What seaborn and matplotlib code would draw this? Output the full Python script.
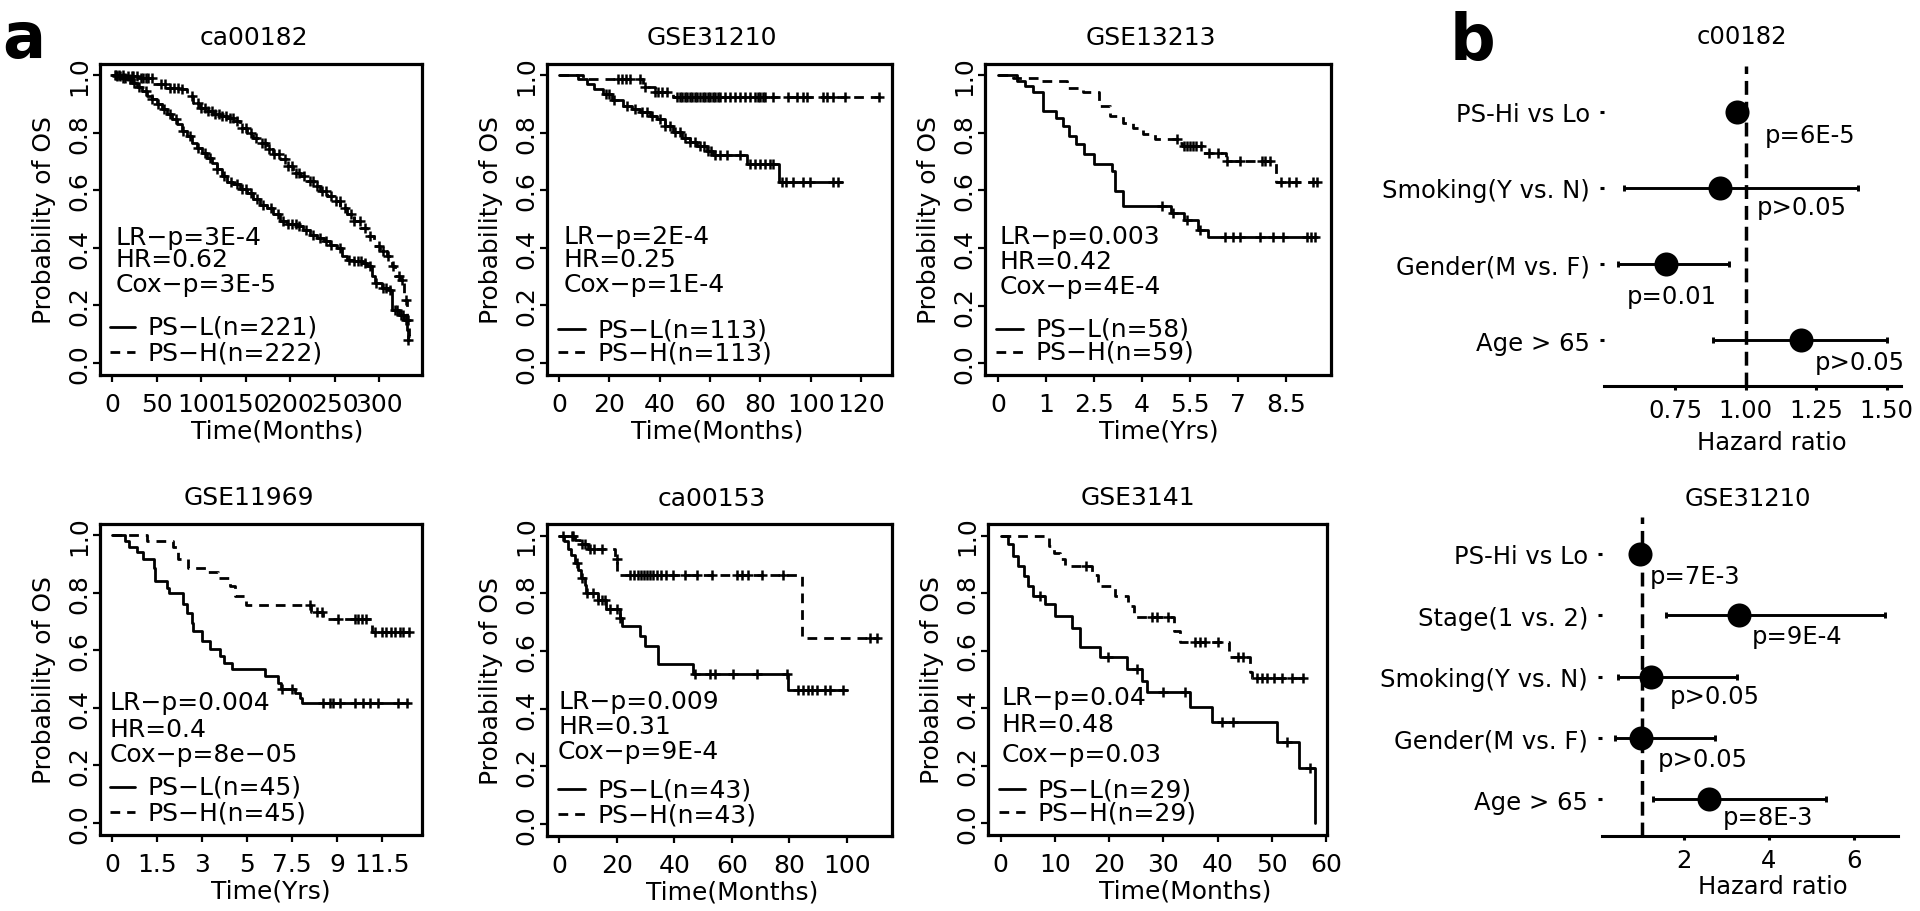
import numpy as np
import pandas as pd
import matplotlib
matplotlib.use("Agg")
import matplotlib.pyplot as plt
import seaborn as sns

W, H, DPI = 1920, 912, 100

# ---------------------------------------------------------------- KM data
# ca00182 (months)
ca00182_L_t = [0, 5.2, 10.9, 16.5, 22.1, 27.7, 33.3, 39, 44.6, 50.2,
               55.8, 61.4, 67, 72.7, 78.3, 83.9, 89.5, 95.1, 100.7, 106.4,
               112, 117.6, 123.2, 128.8, 136.3, 143.8, 151.3, 158.8, 166.3, 173.7,
               181.2, 188.7, 196.2, 207.4, 214.9, 222.5, 230, 237.5, 245, 252.4,
               258, 263.7, 271.2, 280.5, 286.1, 291.8, 295.5, 303, 310.5, 314.2,
               321.7, 327.4, 331.1, 332]
ca00182_L_s = [1.0, 0.995, 0.990, 0.986, 0.974, 0.960, 0.945, 0.928, 0.916, 0.899,
               0.882, 0.864, 0.846, 0.829, 0.806, 0.788, 0.765, 0.748, 0.730, 0.713,
               0.695, 0.672, 0.649, 0.628, 0.620, 0.603, 0.591, 0.568, 0.550, 0.539,
               0.516, 0.492, 0.481, 0.475, 0.463, 0.446, 0.434, 0.423, 0.411, 0.399,
               0.370, 0.358, 0.353, 0.347, 0.336, 0.301, 0.278, 0.260, 0.254, 0.185,
               0.167, 0.150, 0.115, 0.080]
ca00182_L_end = 333
ca00182_L_cens = [3, 6, 9, 12, 15, 20, 25, 30, 38, 45, 52, 58, 65, 72, 80, 88, 96, 104,
                  110, 118, 126, 134, 140, 146, 150, 156, 163, 170, 178, 186, 192, 198,
                  202, 206, 210, 218, 226, 234, 240, 246, 256, 266, 272, 276, 280, 284,
                  290, 296, 304, 308, 312, 318, 320, 324, 327, 330, 332]
ca00182_H_t = [0, 16.5, 31.5, 46.4, 61.4, 76.4, 83.9, 91.4, 98.9, 106.4,
               113.9, 121.3, 128.8, 136.3, 143.8, 151.3, 158.8, 166.3, 173.7, 181.2,
               188.7, 196.2, 203.7, 211.2, 218.7, 226.2, 233.7, 241.2, 248.7, 256.2,
               263.7, 271.2, 278.7, 286.1, 293.6, 301.1, 308.6, 314.2, 318, 323.6,
               327.4, 331.1, 333]
ca00182_H_s = [1.0, 0.995, 0.990, 0.968, 0.956, 0.953, 0.928, 0.904, 0.887, 0.875,
               0.864, 0.858, 0.852, 0.840, 0.817, 0.800, 0.782, 0.765, 0.742, 0.724,
               0.707, 0.684, 0.661, 0.649, 0.632, 0.614, 0.597, 0.579, 0.562, 0.539,
               0.516, 0.492, 0.469, 0.440, 0.405, 0.388, 0.370, 0.336, 0.301, 0.289,
               0.219, 0.150, 0.092]
ca00182_H_end = 334
ca00182_H_cens = [5, 8, 12, 18, 22, 24, 28, 32, 35, 38, 40, 45, 55, 60, 65, 70, 74, 78,
                  90, 96, 100, 104, 108, 112, 116, 120, 124, 128, 132, 136, 140, 146,
                  150, 156, 162, 168, 172, 176, 182, 188, 194, 198, 202, 206, 210, 216,
                  222, 226, 230, 236, 240, 246, 252, 256, 262, 268, 272, 278, 284, 290,
                  300, 304, 310, 316, 322, 326, 330, 332]

# GSE31210 (months)
gse31210_L_t = [0, 7.7, 11, 14, 17.6, 21, 25.6, 29, 32, 36, 38.8, 42, 45.4, 49, 52,
                55, 58.7, 61.3, 74.6, 87.2]
gse31210_L_s = [1.0, 0.986, 0.969, 0.952, 0.934, 0.914, 0.894, 0.882, 0.871, 0.859,
                0.847, 0.824, 0.801, 0.783, 0.766, 0.752, 0.737, 0.722, 0.690, 0.628]
gse31210_L_end = 112.4
gse31210_L_cens = [18.5, 20, 22, 27, 30, 33, 35, 37, 40, 42, 44, 46, 48, 50, 52, 54, 56,
                   57.5, 59, 60.5, 62, 64, 66.6, 71.9, 76, 78, 80, 82, 84, 85.2, 88.5,
                   90, 93.1, 97.1, 99.7, 109, 111]
gse31210_H_t = [0, 9.7, 33.5, 38, 45.4]
gse31210_H_s = [1.0, 0.986, 0.958, 0.942, 0.922]
gse31210_H_end = 127.6
gse31210_H_cens = [23.6, 25, 26.5, 28, 32.2, 34.2, 38.2, 39.5, 41, 43, 46.8, 48, 49, 50,
                   51, 52, 53, 54, 55, 56, 57, 58, 59, 60, 61, 62, 63, 64, 66, 68, 70,
                   72, 74, 76, 78, 79, 80, 81, 82, 85.2, 91.1, 94.4, 97.1, 98.4, 105,
                   106.3, 109, 113.6, 127]

# GSE13213 (axis units, labelled in years)
gse13213_L_t = [0, 0.58, 0.85, 1.1, 1.4, 1.81, 2.02, 2.23, 2.44, 2.7, 3.0, 3.55, 3.66,
                3.92, 5.4, 5.8, 6.25, 6.55]
gse13213_L_s = [1.0, 0.98, 0.963, 0.94, 0.876, 0.852, 0.823, 0.789, 0.76, 0.725, 0.69,
                0.667, 0.597, 0.545, 0.522, 0.499, 0.464, 0.438]
gse13213_L_end = 9.97
gse13213_L_cens = [5.12, 5.48, 5.9, 6.31, 7.09, 7.35, 7.56, 8.19, 8.6, 8.92, 9.65, 9.8, 9.9]
gse13213_H_t = [0, 0.48, 1.3, 2.15, 2.67, 3.14, 3.5, 3.92, 4.23, 4.54, 4.9, 5.6, 5.75,
                6.41, 7.14, 8.7]
gse13213_H_s = [1.0, 0.99, 0.98, 0.956, 0.94, 0.893, 0.858, 0.835, 0.817, 0.794, 0.777,
                0.765, 0.753, 0.73, 0.701, 0.628]
gse13213_H_end = 9.97
gse13213_H_cens = [5.58, 5.8, 5.9, 6.0, 6.1, 6.2, 6.36, 6.6, 6.89, 7.15, 7.56, 8.24,
                   8.34, 8.5, 8.86, 9.1, 9.3, 9.85, 9.96]

# GSE11969 (axis units, labelled in years)
gse11969_L_t = [0, 0.6, 0.74, 1.11, 1.4, 1.85, 1.92, 2.44, 2.55, 3.17, 3.32, 3.54, 3.61,
                3.99, 4.36, 4.8, 4.96, 5.33, 6.8, 7.4, 7.5, 8.13, 8.36, 8.45]
gse11969_L_s = [1.0, 0.978, 0.957, 0.94, 0.916, 0.887, 0.84, 0.817, 0.8, 0.76, 0.73,
                0.695, 0.667, 0.632, 0.603, 0.58, 0.557, 0.533, 0.51, 0.487, 0.464,
                0.452, 0.435, 0.417]
gse11969_L_end = 13.17
gse11969_L_cens = [7.55, 8.0, 9.4, 9.69, 9.84, 10.13, 10.8, 11.17, 11.47, 11.84, 12.73, 13.1]
gse11969_H_t = [0, 1.55, 2.73, 2.95, 3.39, 4.2, 4.72, 5.24, 5.46, 5.98, 8.85, 9.36, 11.56]
gse11969_H_s = [1.0, 0.98, 0.957, 0.916, 0.887, 0.87, 0.852, 0.823, 0.788, 0.757,
                0.731, 0.707, 0.664]
gse11969_H_end = 13.3
gse11969_H_cens = [8.8, 9.1, 9.32, 10.06, 10.8, 10.95, 11.1, 11.3, 11.69, 12.0, 12.2,
                   12.4, 12.6, 12.8, 12.95, 13.2]

# ca00153 (months)
ca00153_L_t = [0, 1.9, 3.1, 4.2, 5.4, 6.5, 7.7, 8.9, 9.5, 13.5, 16.4, 21.1, 21.8, 28,
               29.8, 34.4, 46.6, 79.6]
ca00153_L_s = [1.0, 0.98, 0.955, 0.934, 0.905, 0.882, 0.853, 0.83, 0.801, 0.778, 0.744,
               0.715, 0.686, 0.651, 0.617, 0.553, 0.519, 0.465]
ca00153_L_end = 99.9
ca00153_L_cens = [6.1, 7.9, 9.6, 11.9, 13.7, 14.8, 16, 17.7, 20, 21.2, 47.2, 52.4, 54.2,
                  60.5, 68.6, 79, 83.1, 84.8, 86.6, 87.7, 89.5, 92.4, 94.1, 98.7]
ca00153_H_t = [0, 5.5, 7.3, 10.2, 19.4, 20.2, 84.2]
ca00153_H_s = [1.0, 0.985, 0.97, 0.952, 0.917, 0.862, 0.646]
ca00153_H_end = 111
ca00153_H_cens = [1.5, 4.4, 5, 7.9, 9, 10.8, 12, 14.8, 20, 24.6, 26, 27.5, 28.5, 29.5,
                  30.5, 31.5, 32.5, 34, 35.5, 37, 39.7, 43.7, 47.8, 53, 61.7, 63.5,
                  65.7, 70.4, 77.9, 108, 110.3]

# GSE3141 (months)
gse3141_L_t = [0, 1.4, 2.3, 3.2, 4.2, 5.1, 6.0, 8.1, 10.0, 13.1, 14.6, 18.3, 23.2, 26,
               26.9, 34.9, 38.9, 50.9, 54.9, 58]
gse3141_L_s = [1.0, 0.969, 0.928, 0.894, 0.859, 0.824, 0.79, 0.761, 0.72, 0.68, 0.611,
               0.576, 0.536, 0.495, 0.455, 0.403, 0.351, 0.282, 0.19, 0.0]
gse3141_L_end = 58
gse3141_L_cens = [7.2, 19.8, 25.1, 30, 34, 40.8, 42.9, 52.7, 57]
gse3141_H_t = [0, 8.8, 9.8, 11.0, 11.9, 16.8, 18.0, 21.1, 23.5, 24.5, 31.9, 33.1, 42.0,
               46.0, 46.3]
gse3141_H_s = [1.0, 0.963, 0.94, 0.918, 0.894, 0.862, 0.824, 0.79, 0.755, 0.716, 0.669,
               0.631, 0.577, 0.525, 0.504]
gse3141_H_end = 56
gse3141_H_cens = [15.8, 27.8, 28.8, 30.9, 35.8, 36.8, 37.7, 40.1, 43.8, 44.7, 47.2, 48.1,
                  49.1, 50.3, 51.8, 53.7, 55.8]

km_titles = ["ca00182", "GSE31210", "GSE13213", "GSE11969", "ca00153", "GSE3141"]
km_stats = [["LR\u2212p=3E-4", "HR=0.62", "Cox\u2212p=3E-5"],
            ["LR\u2212p=2E-4", "HR=0.25", "Cox\u2212p=1E-4"],
            ["LR\u2212p=0.003", "HR=0.42", "Cox\u2212p=4E-4"],
            ["LR\u2212p=0.004", "HR=0.4", "Cox\u2212p=8e\u221205"],
            ["LR\u2212p=0.009", "HR=0.31", "Cox\u2212p=9E-4"],
            ["LR\u2212p=0.04", "HR=0.48", "Cox\u2212p=0.03"]]
km_legend = [["PS\u2212L(n=221)", "PS\u2212H(n=222)"],
             ["PS\u2212L(n=113)", "PS\u2212H(n=113)"],
             ["PS\u2212L(n=58)", "PS\u2212H(n=59)"],
             ["PS\u2212L(n=45)", "PS\u2212H(n=45)"],
             ["PS\u2212L(n=43)", "PS\u2212H(n=43)"],
             ["PS\u2212L(n=29)", "PS\u2212H(n=29)"]]
km_xlabels = ["Time(Months)", "Time(Months)", "Time(Yrs)", "Time(Yrs)",
              "Time(Months)", "Time(Months)"]
km_xtick_labels = [["0", "50", "100", "150", "200", "250", "300"],
                   ["0", "20", "40", "60", "80", "100", "120"],
                   ["0", "1", "2.5", "4", "5.5", "7", "8.5"],
                   ["0", "1.5", "3", "5", "7.5", "9", "11.5"],
                   ["0", "20", "40", "60", "80", "100"],
                   ["0", "10", "20", "30", "40", "50", "60"]]
ytick_vals = [0.0, 0.2, 0.4, 0.6, 0.8, 1.0]

# ---------------------------------------------------------------- forest data
f1_title = "c00182"
f1_labels = ["PS-Hi vs Lo", "Smoking(Y vs. N)", "Gender(M vs. F)", "Age > 65"]
f1_hr = [0.968, 0.908, 0.717, 1.198]
f1_lo = [0.955, 0.568, 0.548, 0.886]
f1_hi = [0.985, 1.40, 0.94, 1.50]
f1_p = ["p=6E-5", "p>0.05", "p=0.01", "p>0.05"]
f1_ticks = [0.75, 1.00, 1.25, 1.50]
f1_ticklabels = ["0.75", "1.00", "1.25", "1.50"]

f2_title = "GSE31210"
f2_labels = ["PS-Hi vs Lo", "Stage(1 vs. 2)", "Smoking(Y vs. N)", "Gender(M vs. F)",
             "Age > 65"]
f2_hr = [0.96, 3.29, 1.22, 0.99, 2.59]
f2_lo = [0.90, 1.58, 0.45, 0.38, 1.27]
f2_hi = [1.02, 6.73, 3.25, 2.73, 5.34]
f2_p = ["p=7E-3", "p=9E-4", "p>0.05", "p>0.05", "p=8E-3"]
f2_ticks = [2, 4, 6]
f2_ticklabels = ["2", "4", "6"]

# ---------------------------------------------------------------- layout (pixels)
km_rects = [(100, 422, 64.5, 375.5), (547, 892, 64.5, 375.5), (985, 1331, 64.5, 376),
            (100, 422, 524.5, 835.5), (547, 892, 525, 836.5), (988, 1327, 525, 835.5)]
km_xlims = [(-13.5, 348), (-4.8, 132.3), (-0.41, 10.41), (-0.53, 13.78),
            (-4.17, 115.6), (-2.36, 60.15)]
km_xtick_pos = [[0, 50, 100, 150, 200, 250, 300], [0, 20, 40, 60, 80, 100, 120],
                [0, 1.5, 3, 4.5, 6, 7.5, 9], [0, 2, 4, 6, 8, 10, 12],
                [0, 20, 40, 60, 80, 100], [0, 10, 20, 30, 40, 50, 60]]
km_title_cx = [254, 711.7, 1151, 249, 711.7, 1137.5]
km_xlabel_cx = [277, 716.7, 1159, 271, 731.7, 1185]
km_text_x = [0.047, 0.049, 0.043, 0.031, 0.032, 0.040]
km_text_y = [[0.442, 0.371, 0.291], [0.445, 0.371, 0.291], [0.446, 0.366, 0.286],
             [0.426, 0.339, 0.259], [0.433, 0.352, 0.272], [0.442, 0.355, 0.259]]
km_leg_y = [[0.153, 0.072], [0.146, 0.072], [0.148, 0.074],
            [0.153, 0.072], [0.149, 0.069], [0.146, 0.072]]

f1_rect = (1604, 1901, 67, 387)
f1_xlim = (0.498, 1.551)
f1_ptx = [1.069, 1.041, 0.580, 1.246]
f1_pdy = [0.30, 0.25, 0.42, 0.29]
f2_rect = (1602, 1898, 518, 837)
f2_xlim = (0.07, 7.035)
f2_ptx = [1.2, 3.6, 1.67, 1.39, 2.92]
f2_pdy = [0.36, 0.34, 0.31, 0.34, 0.29]

# ---------------------------------------------------------------- style
sns.set_theme(style="white")
plt.rcParams["font.family"] = ["DejaVu Sans"]
plt.rcParams.update({
    "axes.edgecolor": "black", "axes.linewidth": 2.3, "text.color": "black",
    "xtick.color": "black", "ytick.color": "black", "axes.labelcolor": "black",
    "axes.facecolor": "white", "figure.facecolor": "white",
})
FS = 18      # KM panels
FSF = 17.5   # forest panels
LW = 2.0
DASH = (0, (3.5, 2.5))

fig = plt.figure(figsize=(W / DPI, H / DPI), dpi=DPI)


def rect(l, r, t, b):
    return [l / W, 1 - b / H, (r - l) / W, (b - t) / H]


def draw_curve(ax, t, s, end, cens, dashed):
    tt = list(t) + [end]
    ss = list(s) + [s[-1]]
    df = pd.DataFrame({"time": tt, "surv": ss})
    ls = DASH if dashed else "-"
    sns.lineplot(data=df, x="time", y="surv", ax=ax, estimator=None, sort=False,
                 drawstyle="steps-post", color="black", linewidth=LW, linestyle=ls)
    idx = np.searchsorted(np.asarray(tt), np.asarray(cens), side="right") - 1
    cy = np.asarray(ss)[idx]
    sns.scatterplot(x=cens, y=cy, ax=ax, marker="+", s=60, color="black",
                    linewidth=1.8, zorder=3, legend=False)


km_curves = [
    (ca00182_L_t, ca00182_L_s, ca00182_L_end, ca00182_L_cens,
     ca00182_H_t, ca00182_H_s, ca00182_H_end, ca00182_H_cens),
    (gse31210_L_t, gse31210_L_s, gse31210_L_end, gse31210_L_cens,
     gse31210_H_t, gse31210_H_s, gse31210_H_end, gse31210_H_cens),
    (gse13213_L_t, gse13213_L_s, gse13213_L_end, gse13213_L_cens,
     gse13213_H_t, gse13213_H_s, gse13213_H_end, gse13213_H_cens),
    (gse11969_L_t, gse11969_L_s, gse11969_L_end, gse11969_L_cens,
     gse11969_H_t, gse11969_H_s, gse11969_H_end, gse11969_H_cens),
    (ca00153_L_t, ca00153_L_s, ca00153_L_end, ca00153_L_cens,
     ca00153_H_t, ca00153_H_s, ca00153_H_end, ca00153_H_cens),
    (gse3141_L_t, gse3141_L_s, gse3141_L_end, gse3141_L_cens,
     gse3141_H_t, gse3141_H_s, gse3141_H_end, gse3141_H_cens),
]

for i in range(6):
    l, r, t, b = km_rects[i]
    ax = fig.add_axes(rect(l, r, t, b))
    Lt, Ls, Le, Lc, Ht, Hs, He, Hc = km_curves[i]
    draw_curve(ax, Lt, Ls, Le, Lc, False)
    draw_curve(ax, Ht, Hs, He, Hc, True)
    ax.set_xlim(*km_xlims[i])
    ax.set_ylim(-0.04, 1.04)
    ax.set_xlabel("")
    ax.set_ylabel("")
    ax.set_xticks(km_xtick_pos[i])
    ax.set_xticklabels(km_xtick_labels[i], fontsize=FS)
    ax.set_yticks(ytick_vals)
    ax.set_yticklabels(["%.1f" % v for v in ytick_vals], fontsize=FS,
                       rotation=90, va="center")
    ax.tick_params(axis="both", direction="out", length=5, width=1.6,
                   bottom=True, left=True)
    ax.tick_params(axis="x", pad=7.5)
    ax.tick_params(axis="y", pad=1.5)
    for sp in ax.spines.values():
        sp.set_linewidth(2.3)
        sp.set_color("black")
    w = r - l
    h = b - t
    ax.text((km_title_cx[i] - l) / w, 1 + 26.5 / h, km_titles[i], transform=ax.transAxes,
            ha="center", va="center", fontsize=FS)
    ax.text((km_xlabel_cx[i] - l) / w, -56 / h, km_xlabels[i], transform=ax.transAxes,
            ha="center", va="center", fontsize=FS)
    ax.text(-56 / w, 0.5, "Probability of OS", transform=ax.transAxes, rotation=90,
            ha="center", va="center", fontsize=FS)
    for txt, yy in zip(km_stats[i], km_text_y[i]):
        ax.text(km_text_x[i], yy, txt, transform=ax.transAxes, ha="left",
                va="center", fontsize=FS)
    for j, (txt, yy) in enumerate(zip(km_legend[i], km_leg_y[i])):
        ax.plot([0.032, 0.11], [yy, yy], transform=ax.transAxes, color="black",
                lw=LW, linestyle="-" if j == 0 else DASH)
        ax.text(0.147, yy, txt, transform=ax.transAxes, ha="left", va="center",
                fontsize=FS)


def draw_forest(rc, xlim, labels, hr, lo, hi, ptxt, ptx, pdy, ticks, ticklabels,
                title, title_xy, xlab_xy):
    l, r, t, b = rc
    ax = fig.add_axes(rect(l, r, t, b))
    n = len(labels)
    pos = np.arange(n)[::-1].astype(float)
    hr = np.asarray(hr)
    lo = np.asarray(lo)
    hi = np.asarray(hi)
    ax.axvline(1.0, color="black", lw=2.5, linestyle=(0, (4, 2)), zorder=1)
    ax.errorbar(hr, pos, xerr=[hr - lo, hi - hr], fmt="none", ecolor="black",
                elinewidth=2.1, capsize=2.5, capthick=2.1, zorder=2)
    sns.scatterplot(x=hr, y=pos, ax=ax, s=300, color="black", edgecolor="black",
                    linewidth=0, zorder=3, legend=False)
    for k in range(n):
        ax.text(ptx[k], pos[k] - pdy[k], ptxt[k], ha="left", va="center", fontsize=FSF)
    ax.set_xlim(*xlim)
    ax.set_ylim(-0.6, n - 1 + 0.6)
    ax.set_yticks(pos)
    ax.set_yticklabels(labels, fontsize=FSF)
    ax.set_xticks(ticks)
    ax.set_xticklabels(ticklabels, fontsize=FSF)
    ax.set_xlabel("")
    ax.set_ylabel("")
    for s in ["top", "right", "left"]:
        ax.spines[s].set_visible(False)
    ax.spines["bottom"].set_linewidth(2.2)
    ax.tick_params(axis="both", direction="out", length=3, width=2.2,
                   bottom=True, left=True)
    ax.tick_params(axis="y", pad=7)
    ax.tick_params(axis="x", pad=6)
    ax.patch.set_alpha(0)
    fig.text(title_xy[0] / W, 1 - title_xy[1] / H, title, ha="center", va="center",
             fontsize=FSF)
    fig.text(xlab_xy[0] / W, 1 - xlab_xy[1] / H, "Hazard ratio", ha="center",
             va="center", fontsize=FSF)


draw_forest(f1_rect, f1_xlim, f1_labels, f1_hr, f1_lo, f1_hi, f1_p, f1_ptx, f1_pdy,
            f1_ticks, f1_ticklabels, f1_title, (1742, 37), (1772, 443))
draw_forest(f2_rect, f2_xlim, f2_labels, f2_hr, f2_lo, f2_hi, f2_p, f2_ptx, f2_pdy,
            f2_ticks, f2_ticklabels, f2_title, (1748, 499), (1773, 887))

fig.text(2 / W, 1 - 58 / H, "a", fontsize=46, fontweight="bold", ha="left",
         va="baseline")
fig.text(1450 / W, 1 - 60 / H, "b", fontsize=46, fontweight="bold", ha="left",
         va="baseline")

fig.savefig("out.png", dpi=DPI)
